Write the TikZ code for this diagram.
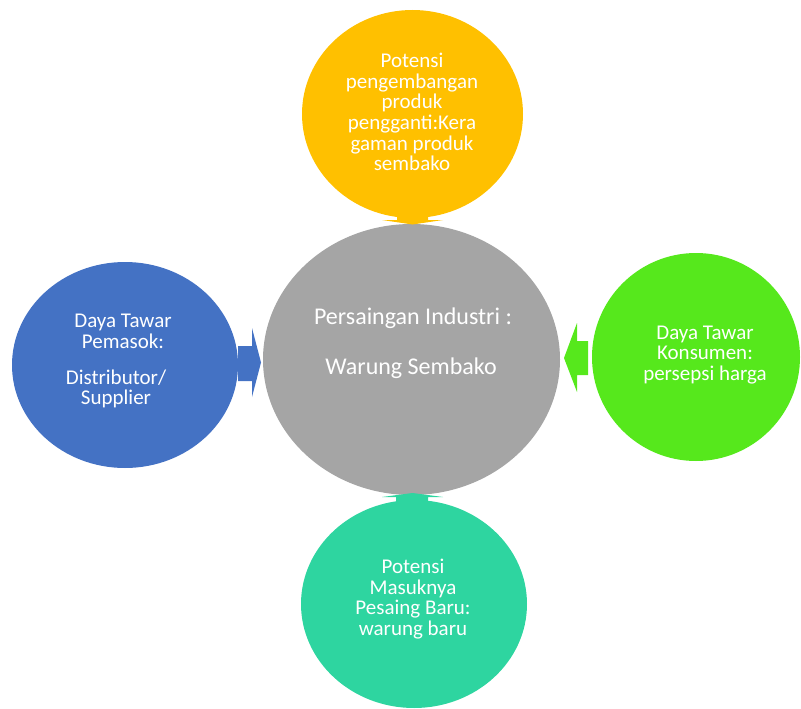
\documentclass[tikz,border=0pt]{standalone}
\usepackage{fontspec}
\setmainfont{Carlito}
\usetikzlibrary{shapes.geometric}
\definecolor{cYellow}{HTML}{FFC000}
\definecolor{cGray}{HTML}{A5A5A5}
\definecolor{cBlue}{HTML}{4472C4}
\definecolor{cGreen}{HTML}{56E81C}
\definecolor{cTeal}{HTML}{2ED5A0}
\begin{document}
\begin{tikzpicture}[x=1pt,y=-1pt,
  blob/.style={ellipse,inner sep=0pt,draw=none},
  label/.style={text=white,align=center,inner sep=0pt,font=\fontsize{21}{20.7}\selectfont},
  biglabel/.style={text=white,align=center,inner sep=0pt,font=\fontsize{24}{26}\selectfont},
  blockarrow/.style={draw=none}]
\useasboundingbox (0,0) rectangle (801,709);

% ellipses
\node[blob,fill=cGray,minimum width=297pt,minimum height=271pt] (core) at (411.5,359.5) {};
\node[blob,fill=cYellow,minimum width=221pt,minimum height=208pt] (top) at (412.5,114) {};
\node[blob,fill=cTeal,minimum width=226pt,minimum height=208pt] (bottom) at (414,604) {};
\node[blob,fill=cBlue,minimum width=226pt,minimum height=206pt] (left) at (125,365) {};
\node[blob,fill=cGreen,minimum width=208pt,minimum height=208pt] (right) at (696,357) {};

% block arrows pointing at the central ellipse
\fill[cYellow] (397,216) -- (428,216) -- (428,220) -- (443,220) -- (412.5,224.5)
  -- (382,220) -- (397,220) -- cycle;
\fill[cTeal] (396,502) -- (428,502) -- (428,497) -- (443,497) -- (412.5,493)
  -- (382,497) -- (396,497) -- cycle;
\fill[cBlue] (238,346) -- (252,346) -- (252,328) -- (261,362.5) -- (252,397)
  -- (252,381) -- (238,381) -- cycle;
\fill[cGreen] (588,341) -- (577,341) -- (577,323) -- (564,358) -- (577,392)
  -- (577,375) -- (588,375) -- cycle;

% texts
\node[label] (topText) at (412,112) {Potensi\\pengembangan\\produk\\pengganti:Kera\\gaman produk\\sembako};
\node[label] (leftTextA) at (123,331) {Daya Tawar\\Pemasok:};
\node[label] (leftTextB) at (116,389) {Distributor/\\Supplier};
\node[label] (rightText) at (705,355) {Daya Tawar\\Konsumen:\\persepsi harga};
\node[label] (bottomText) at (413,599) {Potensi\\Masuknya\\Pesaing Baru:\\warung baru};
\node[biglabel] (coreTextA) at (413,318) {Persaingan Industri :};
\node[biglabel] (coreTextB) at (411,368) {Warung Sembako};
\end{tikzpicture}
\end{document}
